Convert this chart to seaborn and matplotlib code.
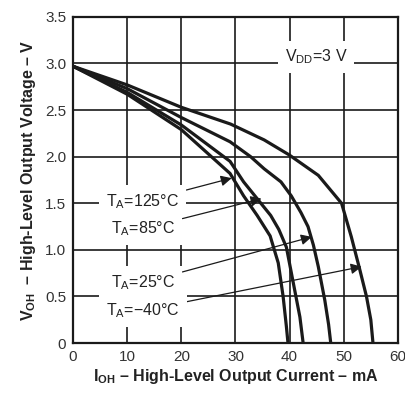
import matplotlib
matplotlib.use("Agg")
import matplotlib.pyplot as plt
import seaborn as sns
import pandas as pd

# Data
i_m40 = [0, 10, 20, 29.1, 35.3, 39.9, 45.3, 49.6, 51.4, 53.0, 54.2, 55.0, 55.4]
v_m40 = [2.97, 2.77, 2.53, 2.35, 2.18, 2.02, 1.80, 1.50, 1.14, 0.78, 0.50, 0.25, 0]
i_25 = [0, 10, 20, 29.0, 32.8, 35.3, 38.4, 40.3, 42.1, 43.4, 44.4, 45.3, 46.5, 47.2, 47.6]
v_25 = [2.97, 2.73, 2.42, 2.16, 2.00, 1.87, 1.73, 1.58, 1.40, 1.25, 1.05, 0.82, 0.46, 0.20, 0]
i_85 = [0, 10, 20, 29.0, 31.5, 34.0, 36.5, 38.0, 39.4, 40.7, 41.9, 42.5]
v_85 = [2.97, 2.69, 2.34, 1.95, 1.73, 1.55, 1.37, 1.22, 1.03, 0.64, 0.28, 0]
i_125 = [0, 10, 20, 29.0, 31.5, 34.0, 36.4, 37.9, 38.8, 39.4, 39.7]
v_125 = [2.97, 2.67, 2.29, 1.82, 1.58, 1.37, 1.15, 0.86, 0.50, 0.18, 0]

x_ticks = [0, 10, 20, 30, 40, 50, 60]
x_tick_labels = ["0", "10", "20", "30", "40", "50", "60"]
y_ticks = [0, 0.5, 1.0, 1.5, 2.0, 2.5, 3.0, 3.5]
y_tick_labels = ["0", "0.5", "1.0", "1.5", "2.0", "2.5", "3.0", "3.5"]

curve_labels = ["T$_{A}$=125°C", "T$_{A}$=85°C", "T$_{A}$=25°C", "T$_{A}$=\u221240°C"]
label_pos = [(12.9, 1.52), (13.0, 1.23), (13.0, 0.65), (12.9, 0.35)]
arrow_tips = [(29.3, 1.77), (34.8, 1.55), (44.1, 1.14), (53.3, 0.82)]

sns.set_style("white")
plt.rcParams["font.family"] = ["Liberation Sans", "DejaVu Sans"]
plt.rcParams["mathtext.fontset"] = "custom"
plt.rcParams["mathtext.rm"] = "Liberation Sans"
plt.rcParams["mathtext.bf"] = "Liberation Sans:bold"
plt.rcParams["mathtext.default"] = "regular"

frames = []
for name, xs, ys in [("-40", i_m40, v_m40), ("25", i_25, v_25), ("85", i_85, v_85), ("125", i_125, v_125)]:
    frames.append(pd.DataFrame({"I": xs, "V": ys, "T": name}))
df = pd.concat(frames, ignore_index=True)

fig = plt.figure(figsize=(4.06, 3.93), dpi=100)
ax = fig.add_axes([0.180, 0.127, 0.800, 0.830])

for x in x_ticks[1:-1]:
    ax.axvline(x, color="#1a1a1a", lw=1.2, zorder=1)
for y in y_ticks[1:-1]:
    ax.axhline(y, color="#1a1a1a", lw=1.2, zorder=1)

sns.lineplot(data=df, x="I", y="V", units="T", estimator=None, sort=False,
             color="#1a1a1a", lw=2.3, ax=ax, zorder=3)

ax.set_xlim(0, 60)
ax.set_ylim(0, 3.5)
ax.set_xticks(x_ticks)
ax.set_xticklabels(x_tick_labels)
ax.set_yticks(y_ticks)
ax.set_yticklabels(y_tick_labels)
ax.tick_params(length=0, labelsize=11, colors="#333333", pad=5)
for s in ax.spines.values():
    s.set_linewidth(1.6)
    s.set_color("#1a1a1a")
    s.set_zorder(5)

ax.set_xlabel(r"$\mathbf{I_{OH}}$ – High-Level Output Current – mA", fontsize=11.5,
              fontweight="bold", color="#222222", labelpad=2)
ax.set_ylabel(r"$\mathbf{V_{OH}}$  – High-Level Output Voltage – V", fontsize=11.5,
              fontweight="bold", color="#222222", labelpad=5)

ax.text(44.9, 3.07, "V$_{DD}$=3 V", fontsize=11.5, ha="center", va="center", color="#222222",
        bbox=dict(facecolor="white", edgecolor="none", pad=5), zorder=4)

for lab, (lx, ly), (tx, ty) in zip(curve_labels, label_pos, arrow_tips):
    ax.annotate(lab, xy=(tx, ty), xytext=(lx, ly), fontsize=11.5, ha="center", va="center",
                color="#222222", zorder=4,
                bbox=dict(facecolor="white", edgecolor="none", pad=5),
                arrowprops=dict(arrowstyle="-|>", color="#1a1a1a", lw=0.9,
                                mutation_scale=16, shrinkA=0, shrinkB=0))

fig.savefig("out.png", dpi=100)
